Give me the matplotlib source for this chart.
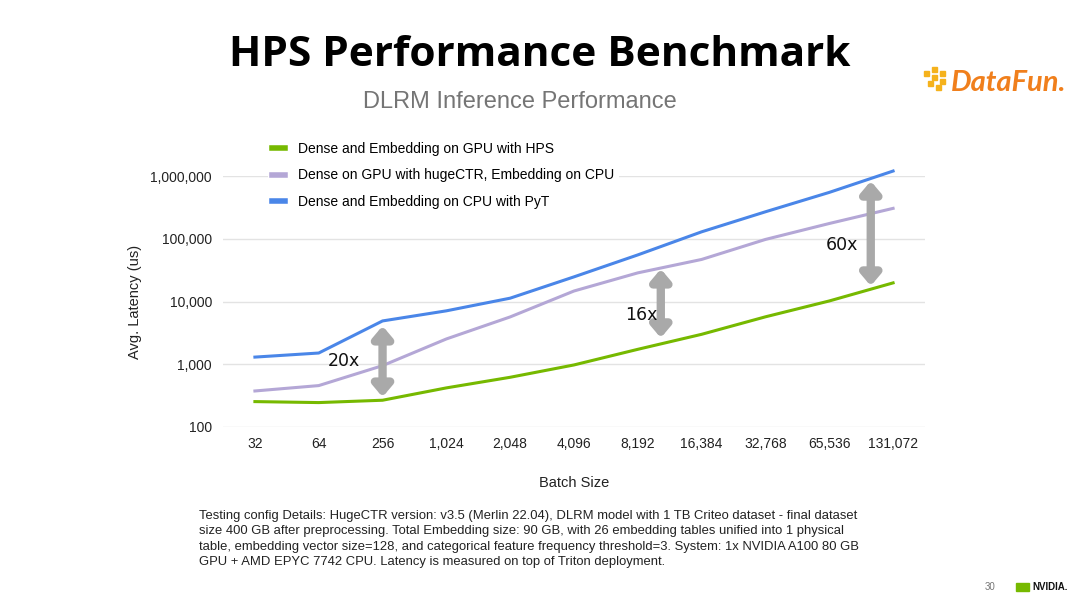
import matplotlib.pyplot as plt
import numpy as np

# data
batch_sizes = ["32", "64", "256", "1,024", "2,048", "4,096", "8,192", "16,384", "32,768", "65,536", "131,072"]
hps_gpu = [254, 245, 267, 420, 620, 975, 1730, 3000, 5700, 10200, 19800]
hugectr_cpu = [375, 457, 950, 2530, 5680, 14700, 28600, 46800, 97500, 175000, 305000]
pyt_cpu = [1300, 1510, 4900, 7100, 11300, 24700, 55300, 129000, 269000, 548000, 1200000]

series_labels = ["Dense and Embedding on GPU with HPS",
                 "Dense on GPU with hugeCTR, Embedding on CPU",
                 "Dense and Embedding on CPU with PyT"]
colors = ["#76b900", "#b4a7d6", "#4a86e8"]

# speed-up arrows: x index, low, high, label, label x, label y
speedups = [(2, 300, 4080, "20x", 1.39, 1130),
            (6.36, 2630, 33000, "16x", 6.05, 6100),
            (9.65, 17700, 830000, "60x", 9.2, 80000)]

footnote = ("Testing config Details: HugeCTR version: v3.5 (Merlin 22.04), DLRM model with 1 TB Criteo dataset - final dataset\n"
            "size 400 GB after preprocessing. Total Embedding size: 90 GB, with 26 embedding tables unified into 1 physical\n"
            "table, embedding vector size=128, and categorical feature frequency threshold=3. System: 1x NVIDIA A100 80 GB\n"
            "GPU + AMD EPYC 7742 CPU. Latency is measured on top of Triton deployment.")

plt.rcParams['font.family'] = ['Liberation Sans', 'DejaVu Sans']

fig = plt.figure(figsize=(10.8, 6.08), dpi=100)
ax = fig.add_axes([223 / 1080, 1 - 427 / 608, (925 - 223) / 1080, (427 - 176) / 608])

x = np.arange(len(batch_sizes))
for vals, lab, col in zip([hps_gpu, hugectr_cpu, pyt_cpu], series_labels, colors):
    ax.plot(x, vals, color=col, lw=2.2, label=lab, clip_on=False, zorder=3)

ax.set_yscale("log")
ax.set_ylim(100, 1e6)
ax.set_xlim(-0.5, 10.5)
ax.set_yticks([100, 1000, 10000, 100000, 1000000])
ax.set_yticklabels(["100", "1,000", "10,000", "100,000", "1,000,000"])
ax.minorticks_off()
ax.set_xticks(x)
ax.set_xticklabels(batch_sizes)
ax.tick_params(length=0, labelsize=10, colors="#222222", pad=7)
ax.tick_params(axis="y", pad=8)
for s in ax.spines.values():
    s.set_visible(False)
ax.grid(axis="y", color="#e3e3e3", lw=1)
ax.set_axisbelow(True)

ax.set_xlabel("Batch Size", fontsize=10.5, color="#222222", labelpad=18)
ax.set_ylabel("Avg. Latency (us)", fontsize=10.5, color="#222222", labelpad=6)

for xi, lo, hi, txt, tx, ty in speedups:
    ax.annotate("", xy=(xi, hi), xytext=(xi, lo),
                arrowprops=dict(arrowstyle="<|-|>,head_length=0.65,head_width=0.55",
                                color="#a9a9a9", lw=6, shrinkA=0, shrinkB=0),
                zorder=4, annotation_clip=False)
    ax.text(tx, ty, txt, fontsize=12.5, ha="center", va="center", color="#111111",
            family=["DejaVu Sans"], zorder=5)

leg = ax.legend(loc="upper left", bbox_to_anchor=(0.054, 1.18), frameon=True,
                fontsize=10, handlelength=0.9, handletextpad=1.0, labelspacing=0.9,
                borderpad=0.3, edgecolor="none", facecolor="white", framealpha=1)
for h in leg.get_lines():
    h.set_linewidth(4)

fig.text(540 / 1080, 1 - 56 / 608, "HPS Performance Benchmark", fontsize=30.5, fontweight="bold",
         ha="center", va="center", family=["Open Sans", "DejaVu Sans"], color="black")
fig.text(520 / 1080, 1 - 102 / 608, "DLRM Inference Performance", fontsize=17,
         ha="center", va="center", color="#757575")

fig.text(199 / 1080, 1 - 510 / 608, footnote, fontsize=9.4, ha="left", va="top",
         color="#222222", linespacing=1.38)

# logos / footer
fig.text(1066 / 1080, 1 - 83 / 608, "DataFun.", fontsize=21, fontweight="bold", style="italic",
         ha="right", va="center", color="#f07f1c", family=["Lato", "DejaVu Sans"])
for dx, dy in [(924, 76), (932, 72), (932, 80), (940, 76), (940, 84), (928, 86), (936, 90)]:
    fig.patches.append(plt.Rectangle((dx / 1080, 1 - dy / 608), 5 / 1080, 5 / 608,
                                     transform=fig.transFigure, color="#f5b21c"))
fig.text(990 / 1080, 1 - 587 / 608, "30", fontsize=7, ha="center", va="center", color="#777777")
fig.text(1032 / 1080, 1 - 587 / 608, "NVIDIA.", fontsize=7, fontweight="bold", ha="left",
         va="center", color="#111111")
fig.patches.append(plt.Rectangle((1016 / 1080, 1 - 591 / 608), 13 / 1080, 8 / 608,
                                 transform=fig.transFigure, color="#76b900"))

fig.savefig("out.png", dpi=100, facecolor="white")
